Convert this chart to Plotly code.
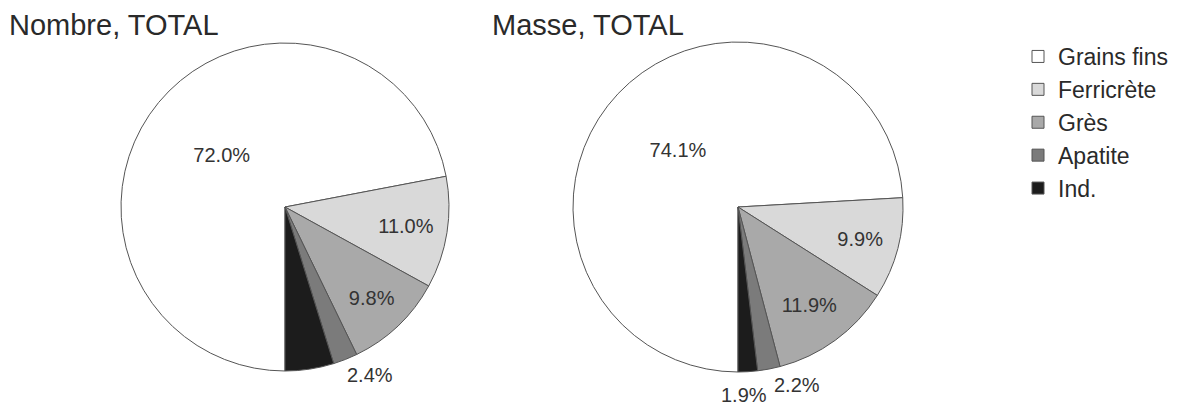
import math
import plotly.graph_objects as go

categories = ["Grains fins", "Ferricrète", "Grès", "Apatite", "Ind."]
nombre = [72.0, 11.0, 9.8, 2.4, 4.8]
masse = [74.1, 9.9, 11.9, 2.2, 1.9]
colors = ["#ffffff", "#d9d9d9", "#a9a9a9", "#7b7b7b", "#1c1c1c"]
titles = ["Nombre, TOTAL", "Masse, TOTAL"]

W, H = 1192, 419
OFF = 8  # page body margin
FONT = "Liberation Sans, Arial"
TXT = "#333333"


def px(x):
    return (x - OFF) / W


def py(y):
    return (H - (y - OFF)) / H


def dom(cx, cy, r):
    return dict(x=[px(cx - r), px(cx + r)], y=[py(cy + r), py(cy - r)])


# pie geometry (screen px): centre x, centre y, radius
geoms = [(285, 207, 164), (738, 207, 165)]
series = [nombre, masse]
inside = ["inside", "inside", "inside", "none", "none"]
# outside labels: (pie index, slice index, x-anchor, radial factor, x shift)
outside_labels = [(0, 3, "left", 1.10, -6), (1, 3, "left", 1.10, 0), (1, 4, "center", 1.14, -5)]

fig = go.Figure()
for i, (vals, (cx, cy, r)) in enumerate(zip(series, geoms)):
    fig.add_trace(go.Pie(
        labels=categories, values=vals, sort=False, direction="clockwise",
        rotation=180, domain=dom(cx, cy, r),
        text=[f"{v:.1f}%" for v in vals], textinfo="text",
        textposition=inside, insidetextorientation="horizontal",
        textfont=dict(size=20, color=TXT, family=FONT),
        marker=dict(colors=colors, line=dict(color="#555555", width=1)),
        showlegend=(i == 0), hoverinfo="label+percent",
    ))

# labels of thin slices, placed outside along each slice's mid-angle
for p, idx, anchor, k, shift in outside_labels:
    vals = series[p]
    cx, cy, r = geoms[p]
    mid = (sum(vals[:idx]) + vals[idx] / 2) / sum(vals)
    ang = math.radians(180 + 360 * mid)
    lx = cx + k * r * math.sin(ang)
    ly = cy - k * r * math.cos(ang)
    fig.add_annotation(text=f"{vals[idx]:.1f}%", x=px(lx), y=py(ly),
                       xref="paper", yref="paper", xanchor=anchor, yanchor="middle",
                       xshift=shift, showarrow=False,
                       font=dict(size=20, color=TXT, family=FONT))

for t, tx in zip(titles, [8, 491]):
    fig.add_annotation(text=t, x=px(tx), y=py(OFF), xref="paper", yref="paper",
                       xanchor="left", yanchor="top", showarrow=False, borderpad=0,
                       font=dict(size=29, color="#2a2a2a", family=FONT))

fig.update_layout(
    width=W, height=H, margin=dict(l=0, r=0, t=0, b=0),
    paper_bgcolor="white", plot_bgcolor="white",
    legend=dict(x=px(1018), y=py(35), xanchor="left", yanchor="top",
                font=dict(size=23, color="#2a2a2a", family=FONT),
                traceorder="normal", bgcolor="rgba(0,0,0,0)"),
)

fig.write_html("out.html")
